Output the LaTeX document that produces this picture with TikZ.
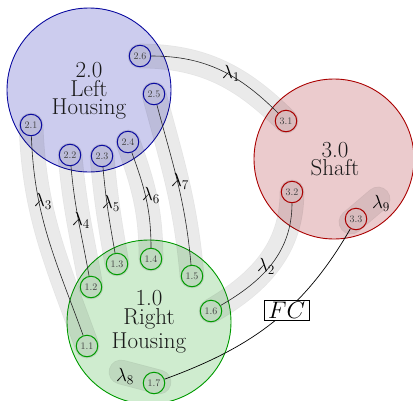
\RequirePackage{fix-cm}
\documentclass[tikz,border=0pt]{standalone}
\usetikzlibrary{backgrounds}
\definecolor{lfill}{RGB}{204,204,238}
\definecolor{ldraw}{RGB}{10,10,160}
\definecolor{sfill}{RGB}{235,203,205}
\definecolor{sdraw}{RGB}{170,0,0}
\definecolor{rfill}{RGB}{207,236,207}
\definecolor{rdraw}{RGB}{0,155,0}
\begin{document}
\begin{tikzpicture}[x=1pt,y=1pt,
  sn/.style={circle, minimum size=21.5pt, inner sep=0pt, line width=1pt, font=\fontsize{10}{10}\selectfont, text=black!75},
  lsn/.style={sn, draw=ldraw},
  ssn/.style={sn, draw=sdraw},
  rsn/.style={sn, draw=rdraw},
  big/.style={circle, inner sep=0pt, line width=0.9pt},
  bigtxt/.style={align=center, inner sep=0pt, font={\fontsize{23}{18.5}\selectfont}, text=black!90},
  bandgrp/.style={transparency group, opacity=0.1},
  band/.style={draw=black, double=black!80, double distance=23pt, line width=0.8pt, line cap=round},
  conn/.style={draw=black!85, line width=0.6pt},
  lam/.style={font=\fontsize{19}{19}\selectfont, inner sep=0pt},
  fcbox/.style={draw, fill=white, line width=0.7pt, inner xsep=4pt, inner ysep=2pt, font=\fontsize{24}{24}\selectfont}
]
\useasboundingbox (0,0) rectangle (413,-400);

% small nodes
\node[lsn] (n26) at (140,-56) {2.6};
\node[lsn] (n25) at (154,-94) {2.5};
\node[lsn] (n21) at (31,-125) {2.1};
\node[lsn] (n22) at (70,-155) {2.2};
\node[lsn] (n23) at (102,-156) {2.3};
\node[lsn] (n24) at (128,-142) {2.4};
\node[ssn] (n31) at (286,-121) {3.1};
\node[ssn] (n32) at (292,-192) {3.2};
\node[ssn] (n33) at (356,-219) {3.3};
\node[rsn] (n11) at (87,-346) {1.1};
\node[rsn] (n12) at (91,-287) {1.2};
\node[rsn] (n13) at (117,-264) {1.3};
\node[rsn] (n14) at (151,-259) {1.4};
\node[rsn] (n15) at (192,-276) {1.5};
\node[rsn] (n16) at (211,-311) {1.6};
\node[rsn] (n17) at (154,-383) {1.7};
\coordinate (c8a) at (121,-372);
\coordinate (c8b) at (159,-382);
\coordinate (c9a) at (351,-222);
\coordinate (c9b) at (378,-199);

\begin{scope}[on background layer]
  \node[big, draw=ldraw, fill=lfill, minimum size=164pt] (L) at (89,-90) {};
  \node[big, draw=sdraw, fill=sfill, minimum size=160pt] (S) at (334,-159) {};
  \node[big, draw=rdraw, fill=rfill, minimum size=164pt] (R) at (149,-322) {};
  \node[bigtxt] (Lt) at (89,-91) {2.0\\Left\\Housing};
  \node[bigtxt] (St) at (335,-159) {3.0\\Shaft};
  \node[bigtxt] (Rt) at (149,-322) {1.0\\Right\\[3pt]Housing};
  \begin{scope}[bandgrp]\draw[band] (n26.center) to[out=0,in=135] (n31.center);\end{scope}
  \begin{scope}[bandgrp]\draw[band] (n32.center) to[out=-90,in=30] (n16.center);\end{scope}
  \begin{scope}[bandgrp]\draw[band] (n21.center) to[out=-88,in=110] (n11.center);\end{scope}
  \begin{scope}[bandgrp]\draw[band] (n22.center) to[out=-85,in=100] (n12.center);\end{scope}
  \begin{scope}[bandgrp]\draw[band] (n23.center) to[out=-85,in=100] (n13.center);\end{scope}
  \begin{scope}[bandgrp]\draw[band] (n24.center) to[out=-70,in=90] (n14.center);\end{scope}
  \begin{scope}[bandgrp]\draw[band] (n25.center) to[out=-75,in=95] (n15.center);\end{scope}
  \begin{scope}[bandgrp]\draw[band] (c8a) -- (c8b);\end{scope}
  \begin{scope}[bandgrp]\draw[band] (c9a) -- (c9b);\end{scope}
\end{scope}

% connectors
\draw[conn] (n26) to[out=0,in=135] (n31);
\draw[conn] (n32) to[out=-90,in=30] (n16);
\draw[conn] (n21) to[out=-88,in=110] (n11);
\draw[conn] (n22) to[out=-85,in=100] (n12);
\draw[conn] (n23) to[out=-85,in=100] (n13);
\draw[conn] (n24) to[out=-70,in=90] (n14);
\draw[conn] (n25) to[out=-75,in=95] (n15);
\draw[draw=black, line width=0.7pt] (n33) to[out=-120,in=20] node[fcbox, pos=0.42] (fc) {$FC$} (n17);

% labels
\node[lam] (l1) at (231,-73) {$\lambda_1$};
\node[lam] (l2) at (266,-266) {$\lambda_2$};
\node[lam] (l3) at (43,-201) {$\lambda_3$};
\node[lam] (l4) at (81,-220) {$\lambda_4$};
\node[lam] (l5) at (111,-203) {$\lambda_5$};
\node[lam] (l6) at (151,-195) {$\lambda_6$};
\node[lam] (l7) at (180,-181) {$\lambda_7$};
\node[lam] (l8) at (125,-376) {$\lambda_8$};
\node[lam] (l9) at (381,-203) {$\lambda_9$};
\end{tikzpicture}
\end{document}
